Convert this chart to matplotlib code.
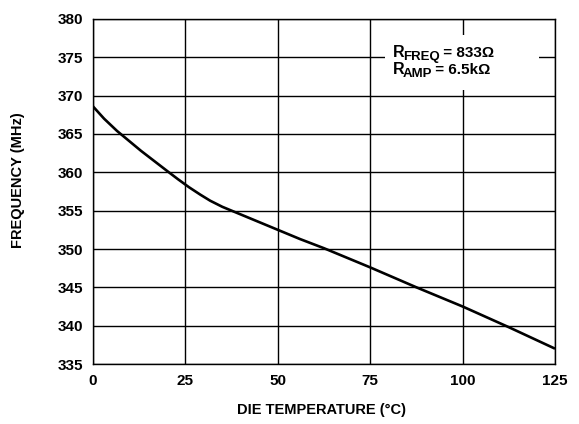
import matplotlib
matplotlib.use("Agg")
import matplotlib.pyplot as plt
from matplotlib.patches import Rectangle

# curve
temp_c = [0, 3, 6.5, 10, 13, 16.5, 20, 23, 26, 29, 31.7, 35, 38, 44, 50, 56, 62.5, 75, 87.5, 100, 112.5, 125]
freq_mhz = [368.6, 367.0, 365.4, 364.0, 362.8, 361.5, 360.2, 359.1, 358.05, 357.1, 356.3, 355.5, 354.9, 353.7, 352.5, 351.3, 350.1, 347.6, 345.0, 342.5, 339.8, 337.0]

x_ticks = [0, 25, 50, 75, 100, 125]
y_ticks = [335, 340, 345, 350, 355, 360, 365, 370, 375, 380]

plt.rcParams['font.family'] = ['Liberation Sans', 'DejaVu Sans']
plt.rcParams['font.weight'] = 'bold'

fig = plt.figure(figsize=(5.79, 4.24), dpi=100)
ax = fig.add_axes([0.1606, 0.1415, 0.798, 0.8137])

ax.plot(temp_c, freq_mhz, color='black', linewidth=1.9, zorder=5,
        solid_capstyle='butt', solid_joinstyle='round')

ax.set_xlim(0, 125)
ax.set_ylim(335, 380)
ax.set_xticks(x_ticks)
ax.set_yticks(y_ticks)
ax.tick_params(length=0, labelsize=11, pad=7)
for lbl in ax.get_xticklabels() + ax.get_yticklabels():
    lbl.set_fontweight('bold')
ax.grid(True, color='black', linewidth=1.0)
ax.set_axisbelow(True)
for s in ax.spines.values():
    s.set_linewidth(1.0)

# white box behind the annotation
ax.add_patch(Rectangle((0.632, 0.794), 0.333, 0.16, transform=ax.transAxes,
                       facecolor='white', edgecolor='none', zorder=3))


def resistor_label(y, sub, value):
    r = ax.text(0.648, y, 'R', transform=ax.transAxes, fontsize=11.5,
                fontweight='bold', zorder=4, va='baseline')
    s = ax.annotate(sub, xy=(1, 0), xycoords=r, xytext=(-1.0, -2.2),
                    textcoords='offset points', fontsize=9.5, fontweight='bold',
                    va='bottom', zorder=4)
    ax.annotate(' = ' + value, xy=(1, 0), xycoords=s, xytext=(-0.5, 2.2),
                textcoords='offset points', fontsize=11, fontweight='bold',
                va='bottom', zorder=4)


resistor_label(0.89, 'FREQ', '833Ω')
resistor_label(0.84, 'AMP', '6.5kΩ')

fig.text(0.556, 0.032, 'DIE TEMPERATURE (°C)', ha='center', va='center',
         fontsize=10.5, fontweight='bold')
fig.text(0.031, 0.575, 'FREQUENCY (MHz)', ha='center', va='center', rotation=90,
         fontsize=10.5, fontweight='bold')

fig.savefig('out.png', dpi=100)
